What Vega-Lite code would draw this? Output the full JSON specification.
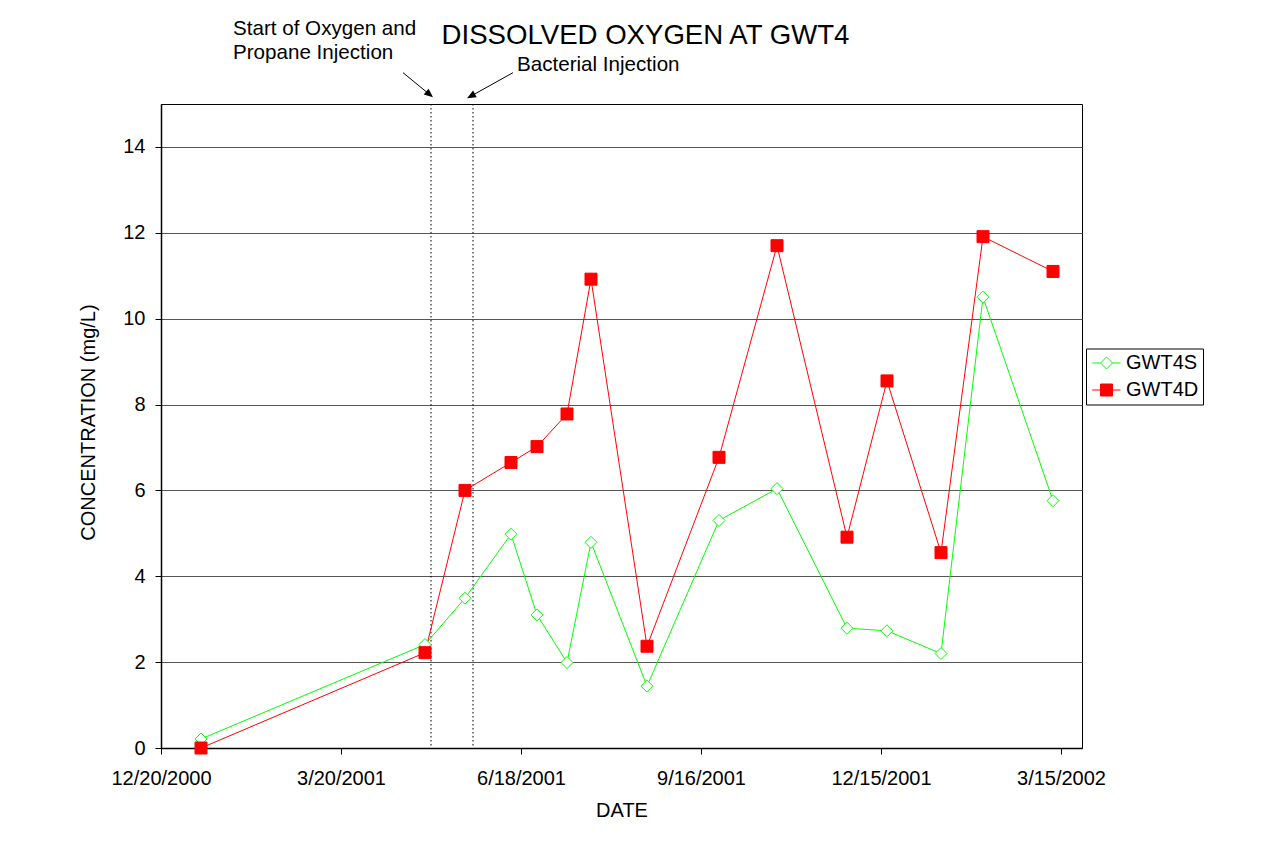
{
  "$schema": "https://vega.github.io/schema/vega-lite/v6.json",
  "width": 921,
  "height": 644,
  "autosize": {"type": "none"},
  "padding": {"left": 161, "top": 104, "right": 203, "bottom": 116},
  "background": "white",
  "title": {
    "text": "DISSOLVED OXYGEN AT GWT4",
    "fontSize": 27.6,
    "font": "Liberation Sans",
    "fontWeight": "normal",
    "color": "black",
    "anchor": "middle",
    "baseline": "alphabetic",
    "dx": 24,
    "offset": -52
  },
  "config": {
    "font": "Liberation Sans",
    "view": {"stroke": "black", "strokeWidth": 1},
    "axis": {
      "labelFont": "Liberation Sans",
      "titleFont": "Liberation Sans",
      "labelColor": "black",
      "titleColor": "black",
      "labelFontSize": 20,
      "titleFontSize": 20,
      "titleFontWeight": "normal",
      "tickColor": "black",
      "domainColor": "black",
      "domainWidth": 1.5,
      "tickSize": 6,
      "labelOverlap": false,
      "labelFlush": false
    }
  },
  "resolve": {
    "scale": {"stroke": "independent", "fill": "independent", "shape": "independent"},
    "legend": {"stroke": "independent", "fill": "independent", "shape": "independent"}
  },
  "datasets": {
    "main": [
      {"date": "2001-01-09", "series": "GWT4S", "value": 0.21},
      {"date": "2001-05-01", "series": "GWT4S", "value": 2.41},
      {"date": "2001-05-21", "series": "GWT4S", "value": 3.49},
      {"date": "2001-06-13", "series": "GWT4S", "value": 4.98},
      {"date": "2001-06-26", "series": "GWT4S", "value": 3.10},
      {"date": "2001-07-11", "series": "GWT4S", "value": 1.99},
      {"date": "2001-07-23", "series": "GWT4S", "value": 4.79},
      {"date": "2001-08-20", "series": "GWT4S", "value": 1.44},
      {"date": "2001-09-25", "series": "GWT4S", "value": 5.30},
      {"date": "2001-10-24", "series": "GWT4S", "value": 6.04},
      {"date": "2001-11-28", "series": "GWT4S", "value": 2.79},
      {"date": "2001-12-18", "series": "GWT4S", "value": 2.73},
      {"date": "2002-01-14", "series": "GWT4S", "value": 2.20},
      {"date": "2002-02-04", "series": "GWT4S", "value": 10.50},
      {"date": "2002-03-11", "series": "GWT4S", "value": 5.76},
      {"date": "2001-01-09", "series": "GWT4D", "value": 0.0},
      {"date": "2001-05-01", "series": "GWT4D", "value": 2.22},
      {"date": "2001-05-21", "series": "GWT4D", "value": 6.00},
      {"date": "2001-06-13", "series": "GWT4D", "value": 6.65},
      {"date": "2001-06-26", "series": "GWT4D", "value": 7.02},
      {"date": "2001-07-11", "series": "GWT4D", "value": 7.78},
      {"date": "2001-07-23", "series": "GWT4D", "value": 10.92},
      {"date": "2001-08-20", "series": "GWT4D", "value": 2.37},
      {"date": "2001-09-25", "series": "GWT4D", "value": 6.77},
      {"date": "2001-10-24", "series": "GWT4D", "value": 11.70},
      {"date": "2001-11-28", "series": "GWT4D", "value": 4.91},
      {"date": "2001-12-18", "series": "GWT4D", "value": 8.55},
      {"date": "2002-01-14", "series": "GWT4D", "value": 4.55},
      {"date": "2002-02-04", "series": "GWT4D", "value": 11.91},
      {"date": "2002-03-11", "series": "GWT4D", "value": 11.10}
    ],
    "events": [
      {"event": "Start of Oxygen and Propane Injection", "date": "2001-05-04"},
      {"event": "Bacterial Injection", "date": "2001-05-25"}
    ]
  },
  "layer": [
    {
      "data": {"name": "events"},
      "mark": {"type": "rule", "color": "black", "strokeWidth": 1, "strokeDash": [1.5, 2.5]},
      "encoding": {
        "x": {
          "field": "date",
          "type": "temporal",
          "scale": {
            "type": "utc",
            "domain": [
              {"year": 2000, "month": 12, "date": 20, "utc": true},
              {"year": 2002, "month": 3, "date": 25, "hours": 12, "utc": true}
            ]
          },
          "axis": {
            "title": "DATE",
            "values": [
              {"year": 2000, "month": 12, "date": 20, "utc": true},
              {"year": 2001, "month": 3, "date": 20, "utc": true},
              {"year": 2001, "month": 6, "date": 18, "utc": true},
              {"year": 2001, "month": 9, "date": 16, "utc": true},
              {"year": 2001, "month": 12, "date": 15, "utc": true},
              {"year": 2002, "month": 3, "date": 15, "utc": true}
            ],
            "format": "%-m/%-d/%Y",
            "grid": false,
            "labelPadding": 14,
            "titlePadding": 12
          }
        }
      }
    },
    {
      "data": {"name": "main"},
      "mark": {"type": "line", "strokeWidth": 1},
      "encoding": {
        "x": {"field": "date", "type": "temporal"},
        "y": {
          "field": "value",
          "type": "quantitative",
          "scale": {"domain": [0, 15], "nice": false},
          "axis": {
            "title": "CONCENTRATION (mg/L)",
            "values": [0, 2, 4, 6, 8, 10, 12, 14],
            "grid": true,
            "gridColor": "#555555",
            "gridWidth": 1,
            "gridOpacity": 1,
            "labelPadding": 10,
            "titlePadding": 24,
            "titleY": 318
          }
        },
        "stroke": {
          "field": "series",
          "type": "nominal",
          "scale": {"domain": ["GWT4S", "GWT4D"], "range": ["#00FF00", "#FF0000"]},
          "legend": null
        }
      }
    },
    {
      "data": {"name": "main"},
      "mark": {"type": "point", "size": 144, "strokeWidth": 1, "opacity": 1},
      "encoding": {
        "x": {"field": "date", "type": "temporal"},
        "y": {"field": "value", "type": "quantitative"},
        "stroke": {
          "field": "series",
          "type": "nominal",
          "scale": {"domain": ["GWT4S", "GWT4D"], "range": ["#00FF00", "#FF0000"]},
          "legend": null
        },
        "fill": {
          "field": "series",
          "type": "nominal",
          "scale": {"domain": ["GWT4S", "GWT4D"], "range": ["white", "#FF0000"]},
          "legend": null
        },
        "shape": {
          "field": "series",
          "type": "nominal",
          "scale": {"domain": ["GWT4S", "GWT4D"], "range": ["diamond", "square"]},
          "legend": null
        }
      }
    },
    {
      "data": {"values": []},
      "mark": {"type": "point", "size": 400, "strokeWidth": 1, "opacity": 1},
      "encoding": {
        "stroke": {
          "field": "series",
          "type": "nominal",
          "scale": {"domain": ["GWT4S", "GWT4D"], "range": ["#00FF00", "#FF0000"]},
          "legend": {
            "title": null,
            "orient": "none",
            "legendX": 925,
            "legendY": 244.5,
            "strokeColor": "black",
            "fillColor": "white",
            "padding": 4,
            "rowPadding": 6,
            "labelFontSize": 20,
            "labelColor": "black",
            "labelFont": "Liberation Sans",
            "labelOffset": 15,
            "symbolSize": 400,
            "symbolStrokeWidth": 1
          }
        },
        "fill": {
          "field": "series",
          "type": "nominal",
          "scale": {"domain": ["GWT4S", "GWT4D"], "range": ["white", "#FF0000"]}
        },
        "shape": {
          "field": "series",
          "type": "nominal",
          "scale": {
            "domain": ["GWT4S", "GWT4D"],
            "range": [
              "M-0.83,0H0M1.2,0H2M0,0L0.6,-0.6L1.2,0L0.6,0.6Z",
              "M-0.83,0H0M1.2,0H2M0,-0.6H1.2V0.6H0Z"
            ]
          }
        }
      }
    },
    {
      "data": {"values": [{}]},
      "mark": {"type": "text", "text": ["Start of Oxygen and", "Propane Injection"], "align": "left", "baseline": "alphabetic", "fontSize": 20.6, "lineHeight": 24, "color": "black", "font": "Liberation Sans"},
      "encoding": {
        "x": {"datum": {"year": 2001, "month": 1, "date": 25, "utc": true}, "type": "temporal"},
        "y": {"datum": 16.6, "type": "quantitative"}
      }
    },
    {
      "data": {"values": [{}]},
      "mark": {"type": "text", "text": "Bacterial Injection", "align": "left", "baseline": "alphabetic", "fontSize": 20.6, "color": "black", "font": "Liberation Sans"},
      "encoding": {
        "x": {"datum": {"year": 2001, "month": 6, "date": 16, "utc": true}, "type": "temporal"},
        "y": {"datum": 15.78, "type": "quantitative"}
      }
    },
    {
      "data": {"values": [{}]},
      "mark": {"type": "rule", "color": "black", "strokeWidth": 1},
      "encoding": {
        "x": {"datum": {"year": 2001, "month": 4, "date": 20, "utc": true}, "type": "temporal"},
        "y": {"datum": 15.73, "type": "quantitative"},
        "x2": {"datum": {"year": 2001, "month": 5, "date": 3, "hours": 2, "utc": true}},
        "y2": {"datum": 15.23}
      }
    },
    {
      "data": {"values": [{}]},
      "mark": {"type": "rule", "color": "black", "strokeWidth": 1},
      "encoding": {
        "x": {"datum": {"year": 2001, "month": 6, "date": 14, "utc": true}, "type": "temporal"},
        "y": {"datum": 15.73, "type": "quantitative"},
        "x2": {"datum": {"year": 2001, "month": 5, "date": 24, "hours": 5, "utc": true}},
        "y2": {"datum": 15.19}
      }
    },
    {
      "data": {"values": [{}]},
      "mark": {"type": "point", "shape": "M0,-1L0.75,0.8L-0.75,0.8Z", "size": 100, "filled": true, "color": "black", "opacity": 1, "angle": 130},
      "encoding": {
        "x": {"datum": {"year": 2001, "month": 5, "date": 3, "hours": 2, "utc": true}, "type": "temporal"},
        "y": {"datum": 15.23, "type": "quantitative"}
      }
    },
    {
      "data": {"values": [{}]},
      "mark": {"type": "point", "shape": "M0,-1L0.75,0.8L-0.75,0.8Z", "size": 100, "filled": true, "color": "black", "opacity": 1, "angle": 241},
      "encoding": {
        "x": {"datum": {"year": 2001, "month": 5, "date": 24, "hours": 5, "utc": true}, "type": "temporal"},
        "y": {"datum": 15.19, "type": "quantitative"}
      }
    }
  ]
}
